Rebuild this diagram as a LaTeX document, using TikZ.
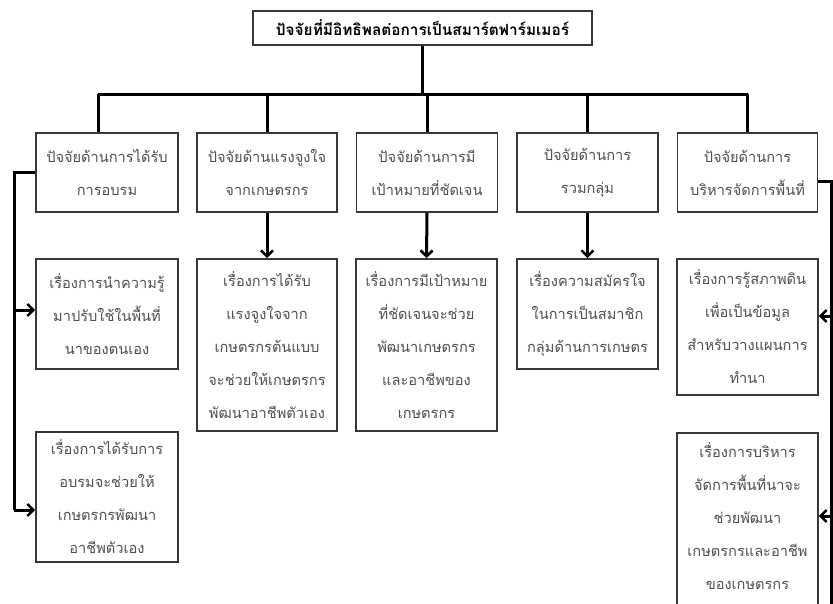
\documentclass[tikz,border=0pt]{standalone}
\usepackage{fontspec}
\newfontfamily\thaifont[Script=Thai]{Loma}
\usetikzlibrary{arrows.meta}
\definecolor{txtgray}{HTML}{505050}
\definecolor{boxgray}{HTML}{383838}
\tikzset{
  box/.style={draw=boxgray, line width=1.6pt, fill=white, inner sep=0pt, align=center,
    text=txtgray, font=\thaifont\fontsize{14.6}{33}\selectfont},
  txt/.style={inner sep=0pt, align=center, text=txtgray, font=\thaifont\fontsize{14.6}{33}\selectfont},
  conn/.style={line width=3pt, black},
  arr/.style={line width=3pt, black, -{Straight Barb[length=6pt, width=12pt, line width=2.6pt]}}
}
\begin{document}
\begin{tikzpicture}[x=1pt,y=-1pt]
\useasboundingbox (0,0) rectangle (833,603);
\clip (0,0) rectangle (833,603);
\fill[white] (0,0) rectangle (833,603);

% title
\node[box, text=black, font=\thaifont\bfseries\fontsize{15.4}{18}\selectfont, minimum width=339pt, minimum height=34pt] (title) at (422.5,28) {ปัจจัยที่มีอิทธิพลต่อการเป็นสมาร์ตฟาร์มเมอร์};

% headers
\node[box, minimum width=142pt, minimum height=79pt] (h1) at (107,172.5) {ปัจจัยด้านการได้รับ\\การอบรม};
\node[box, minimum width=140pt, minimum height=79pt] (h2) at (267,172.5) {ปัจจัยด้านแรงจูงใจ\\จากเกษตรกร};
\node[box, minimum width=141pt, minimum height=79pt] (h3) at (427,172.5) {ปัจจัยด้านการมี\\เป้าหมายที่ชัดเจน};
\node[box, minimum width=141pt, minimum height=79pt] (h4) at (587.5,172.5) {ปัจจัยด้านการ\\รวมกลุ่ม};
\node[box, minimum width=140pt, minimum height=79pt] (h5) at (747.5,172.5) {ปัจจัยด้านการ\\บริหารจัดการพื้นที่};

% row 2
\node[box, minimum width=142pt, minimum height=110pt] (r1a) at (107,314) {เรื่องการนำความรู้\\มาปรับใช้ในพื้นที่\\นาของตนเอง};
\node[box, minimum width=140pt, minimum height=172pt] (r2) at (267,345) {เรื่องการได้รับ\\แรงจูงใจจาก\\เกษตรกรต้นแบบ\\จะช่วยให้เกษตรกร\\พัฒนาอาชีพตัวเอง};
\node[box, minimum width=141pt, minimum height=172pt] (r3) at (426.5,345) {เรื่องการมีเป้าหมาย\\ที่ชัดเจนจะช่วย\\พัฒนาเกษตรกร\\และอาชีพของ\\เกษตรกร};
\node[box, minimum width=141pt, minimum height=110pt] (r4) at (587.5,314) {เรื่องความสมัครใจ\\ในการเป็นสมาชิก\\กลุ่มด้านการเกษตร};
\node[box, minimum width=141pt, minimum height=136pt] (r5a) at (747.5,327) {เรื่องการรู้สภาพดิน\\เพื่อเป็นข้อมูล\\สำหรับวางแผนการ\\ทำนา};

% row 3
\node[box, minimum width=142pt, minimum height=130pt] (r1b) at (107,497) {เรื่องการได้รับการ\\อบรมจะช่วยให้\\เกษตรกรพัฒนา\\อาชีพตัวเอง};
\node[box, minimum width=141pt, minimum height=190pt, anchor=north] (r5b) at (747.5,432) {};
\node[txt] (r5bt) at (747.5,516) {เรื่องการบริหาร\\จัดการพื้นที่นาจะ\\ช่วยพัฒนา\\เกษตรกรและอาชีพ\\ของเกษตรกร};

% top tree
\coordinate (barL) at (98,94);
\coordinate (barR) at (747.5,94);
\draw[conn] (title.south) -- (title.south |- barL);
\draw[conn] (barL) -- (barR);
\draw[conn] (barL) -- (barL |- h1.north);
\draw[conn] (h2.north |- barL) -- (h2.north);
\draw[conn] (h3.north |- barL) -- (h3.north);
\draw[conn] (h4.north |- barL) -- (h4.north);
\draw[conn] (barR) -- (h5.north);

% down arrows
\draw[arr] (h2.south) -- (r2.north);
\draw[arr] (h3.south) -- (r3.north);
\draw[arr] (h4.south) -- (r4.north);

% left bracket
\coordinate (LL) at (14,0);
\coordinate (h1w) at ([yshift=0pt]h1.west);
\coordinate (r1aw) at ([yshift=4pt]r1a.west);
\coordinate (r1bw) at ([yshift=-13pt]r1b.west);
\draw[conn] (h1w) -- (h1w -| LL) -- (LL |- r1bw);
\draw[arr] (LL |- r1aw) -- (r1aw);
\draw[arr] (LL |- r1bw) -- (r1bw);

% right bracket
\coordinate (RR) at (831.5,0);
\coordinate (RB) at (831.5,620);
\coordinate (h5e) at ([yshift=-8.5pt]h5.east);
\coordinate (r5ae) at ([yshift=11pt]r5a.east);
\coordinate (r5be) at (r5bt.east -| r5b.east);
\draw[conn] (h5e) -- (h5e -| RR) -- (RB);
\draw[arr] (RR |- r5ae) -- (r5ae);
\draw[arr] (RR |- r5be) -- (r5be);
\end{tikzpicture}
\end{document}
